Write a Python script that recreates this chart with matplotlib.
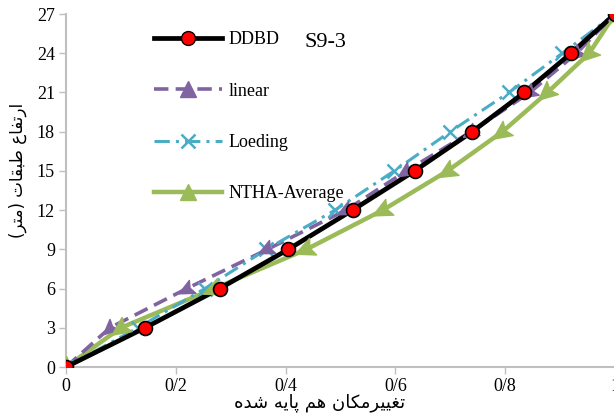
import matplotlib
matplotlib.use("Agg")
from matplotlib import pyplot as plt
from matplotlib.lines import Line2D
import numpy as np

# ارتفاع طبقات و تغییرمکان نرمال شده
heights = [0, 3, 6, 9, 12, 15, 18, 21, 24, 27]
ddbd = [0, 0.144, 0.28, 0.405, 0.522, 0.635, 0.74, 0.835, 0.92, 1.0]
linear = [0, 0.08, 0.22, 0.367, 0.51, 0.62, 0.738, 0.845, 0.93, 1.0]
loeding = [0, 0.131, 0.253, 0.365, 0.49, 0.598, 0.70, 0.807, 0.904, 1.0]
ntha = [0, 0.10, 0.27, 0.438, 0.577, 0.695, 0.795, 0.877, 0.953, 1.0]

x_ticks = [0, 0.2, 0.4, 0.6, 0.8, 1.0]
x_ticklabels = ["0", "0/2", "0/4", "0/6", "0/8", "1"]
y_ticks = list(range(0, 28, 3))

x_label = "تغییرمکان هم پایه شده"
y_label = "ارتفاع طبقات (متر)"


# شکل دهی ساده حروف فارسی (matplotlib خودش این کار را نمی کند)
FORMS = {
    "ا": (0xFE8D, 0xFE8E, None, None),
    "ر": (0xFEAD, 0xFEAE, None, None),
    "د": (0xFEA9, 0xFEAA, None, None),
    "ت": (0xFE95, 0xFE96, 0xFE97, 0xFE98),
    "ب": (0xFE8F, 0xFE90, 0xFE91, 0xFE92),
    "ف": (0xFED1, 0xFED2, 0xFED3, 0xFED4),
    "ع": (0xFEC9, 0xFECA, 0xFECB, 0xFECC),
    "غ": (0xFECD, 0xFECE, 0xFECF, 0xFED0),
    "ط": (0xFEC1, 0xFEC2, 0xFEC3, 0xFEC4),
    "ق": (0xFED5, 0xFED6, 0xFED7, 0xFED8),
    "م": (0xFEE1, 0xFEE2, 0xFEE3, 0xFEE4),
    "ن": (0xFEE5, 0xFEE6, 0xFEE7, 0xFEE8),
    "ه": (0xFEE9, 0xFEEA, 0xFEEB, 0xFEEC),
    "ش": (0xFEB5, 0xFEB6, 0xFEB7, 0xFEB8),
    "پ": (0xFB56, 0xFB57, 0xFB58, 0xFB59),
    "ک": (0xFB8E, 0xFB8F, 0xFB90, 0xFB91),
    "ی": (0xFBFC, 0xFBFD, 0xFBFE, 0xFBFF),
}


def shape_fa(text):
    out = []
    for i, ch in enumerate(text):
        if ch not in FORMS:
            out.append(ch)
            continue
        f = FORMS[ch]
        prev = text[i - 1] if i > 0 else ""
        nxt = text[i + 1] if i + 1 < len(text) else ""
        join_prev = prev in FORMS and FORMS[prev][2] is not None
        join_next = f[2] is not None and nxt in FORMS
        if join_prev and join_next:
            code = f[3]
        elif join_prev:
            code = f[1]
        elif join_next:
            code = f[2]
        else:
            code = f[0]
        out.append(chr(code))
    vis = "".join(reversed(out))
    return vis.translate(str.maketrans("()", ")("))


def arrow_marker(angle):
    # مثلث نوک تیز که در جهت داده شده می چرخد
    verts = np.array([[0, 1.0], [-0.75, -0.6], [0, -0.3], [0.75, -0.6], [0, 1.0]])
    a = np.radians(angle)
    rot = np.array([[np.cos(a), -np.sin(a)], [np.sin(a), np.cos(a)]])
    return verts @ rot.T


plt.rcParams["font.family"] = ["Liberation Serif", "DejaVu Serif"]

fig = plt.figure(figsize=(6.14, 4.16), dpi=100)
ax = fig.add_axes([66 / 614, 49 / 416, 549 / 614, 353 / 416])

purple = "#8064A2"
cyan = "#4BACC6"
green = "#9BBB59"

ax.plot(ddbd, heights, color="black", lw=3.4, zorder=4)
ax.plot(ddbd, heights, "o", color="red", mec="black", mew=1.2, ms=10, zorder=6)
ax.plot(linear, heights, color=purple, lw=2.6, dashes=(4, 2), zorder=3)
ax.plot(loeding, heights, color=cyan, lw=2.2, dashes=(5, 2, 1, 2), zorder=3)
ax.plot(loeding, heights, "x", color=cyan, ms=10, mew=1.8, zorder=3)
ax.plot(ntha, heights, color=green, lw=3.2, zorder=2)

ax.set_xlim(0, 1)
ax.set_ylim(0, 27)

# مثلث ها در جهت خط چرخانده می شوند
for xs, col, ms, z in [(linear, purple, 13, 5), (ntha, green, 16, 5)]:
    pts = ax.transData.transform(np.column_stack([xs, heights]))
    for i in range(len(xs)):
        if i == 0:
            ang = 0
        else:
            dx, dy = pts[i - 1] - pts[i]
            ang = np.degrees(np.arctan2(dy, dx)) - 90
        ax.plot(xs[i], heights[i], marker=arrow_marker(ang), color=col, ms=ms,
                ls="none", zorder=z)

ax.set_xticks(x_ticks)
ax.set_xticklabels(x_ticklabels)
ax.set_yticks(y_ticks)
ax.tick_params(labelsize=13, color="#bfbfbf", length=5, width=1, pad=3)
for s in ["top", "right"]:
    ax.spines[s].set_visible(False)
for s in ["left", "bottom"]:
    ax.spines[s].set_color("#bfbfbf")
    ax.spines[s].set_linewidth(1.5)

handles = [
    Line2D([], [], color="black", lw=3.4, marker="o", mfc="red", mec="black", ms=10),
    Line2D([], [], color=purple, lw=2.6, dashes=(4, 2), marker="^", ms=11),
    Line2D([], [], color=cyan, lw=2.2, dashes=(5, 2, 1, 2), marker="x", ms=10, mew=1.8),
    Line2D([], [], color=green, lw=3.2, marker="^", ms=12),
]
ax.legend(handles, ["DDBD", "linear", "Loeding", "NTHA-Average"],
          loc="upper left", bbox_to_anchor=(0.13, 0.997), frameon=False,
          fontsize=13, handlelength=3.8, labelspacing=1.9, handletextpad=0.35)

ax.text(0.435, 0.92, "S9-3", transform=ax.transAxes, fontsize=16, va="center")

fig.text(320 / 614, 1 - 403 / 416, shape_fa(x_label), family="DejaVu Sans",
         fontsize=13, ha="center", va="center")
fig.text(18 / 614, 1 - 170 / 416, shape_fa(y_label), family="DejaVu Sans",
         fontsize=12, ha="center", va="center", rotation=90)

fig.savefig("out.png", dpi=100)
